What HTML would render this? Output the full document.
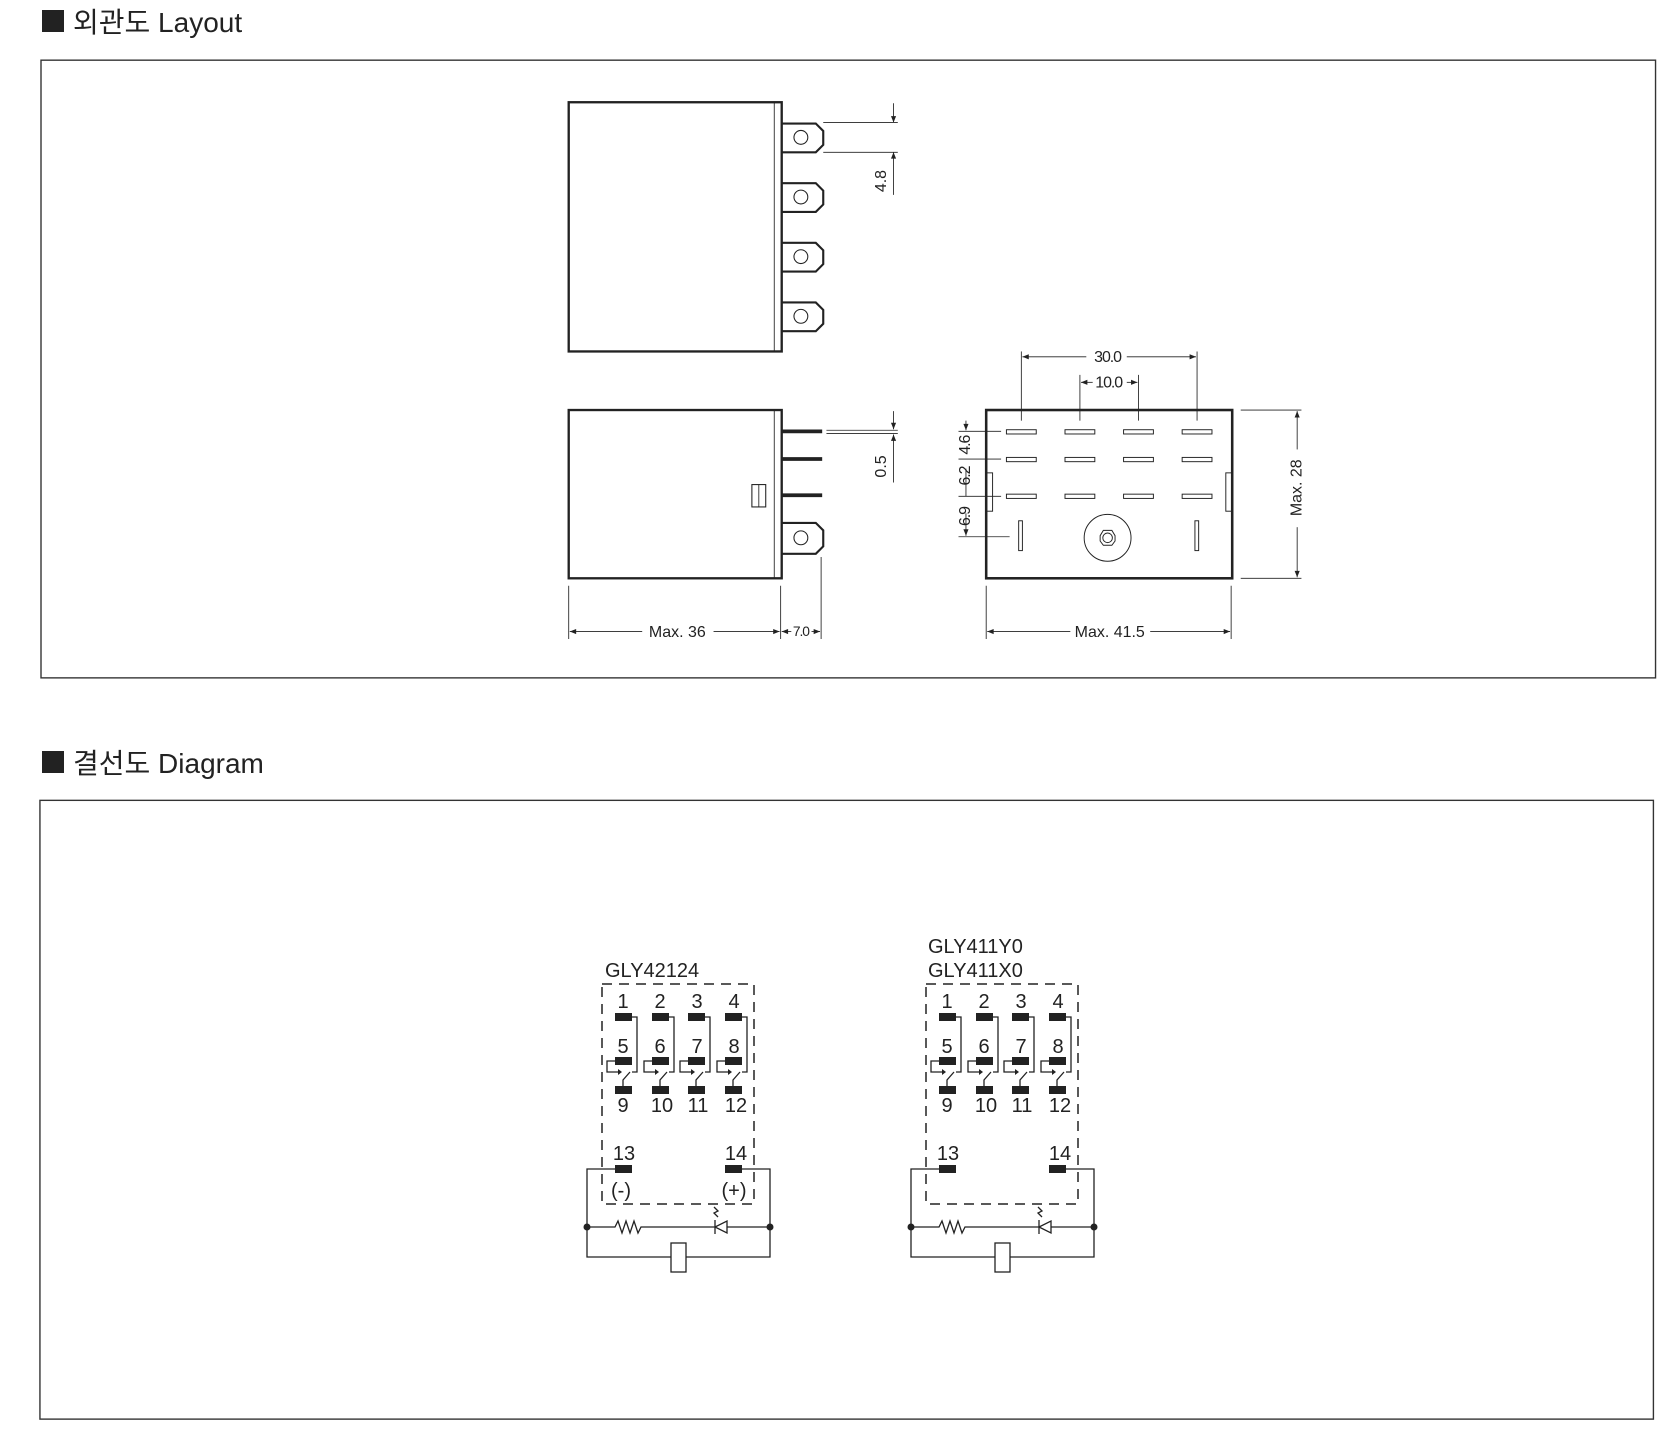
<!DOCTYPE html>
<html><head><meta charset="utf-8"><style>
html,body{margin:0;padding:0;background:#fff;}
svg{display:block;}
text{font-family:"Liberation Sans","Noto Sans CJK KR",sans-serif;fill:#222;}
</style></head><body>
<svg width="1670" height="1430" viewBox="0 0 1670 1430" xmlns="http://www.w3.org/2000/svg">
<defs>
<marker id="ar" viewBox="0 0 10 10" refX="10" refY="5" markerWidth="8" markerHeight="6" orient="auto-start-reverse" markerUnits="userSpaceOnUse"><path d="M0,1 L10,5 L0,9 z" fill="#222"/></marker>
</defs>
<!-- headings -->
<rect x="42" y="10" width="22" height="22" fill="#222"/>
<text x="73" y="32" font-size="28">외관도 Layout</text>
<rect x="42" y="751" width="22" height="22" fill="#222"/>
<text x="73" y="773" font-size="28">결선도 Diagram</text>

<g transform="scale(1.065)">
<rect x="38.5" y="56.5" width="1516" height="580" fill="none" stroke="#333" stroke-width="1.3"/>
<rect x="37.5" y="751.5" width="1515" height="581" fill="none" stroke="#333" stroke-width="1.3"/>

<g stroke="#222" fill="none">
<!-- top view -->
<rect x="534" y="96" width="200" height="234" stroke-width="2.2"/>
<line x1="727" y1="96" x2="727" y2="330" stroke-width="0.8"/>
<g stroke-width="2">
<path d="M734,116 H766 L773,123 V136 L766,143 H734"/>
<path d="M734,172 H766 L773,179 V192 L766,199 H734"/>
<path d="M734,228 H766 L773,235 V248 L766,255 H734"/>
<path d="M734,284 H766 L773,291 V304 L766,311 H734"/>
</g>
<g stroke-width="1"><circle cx="752" cy="129" r="6.5"/><circle cx="752" cy="185" r="6.5"/><circle cx="752" cy="241" r="6.5"/><circle cx="752" cy="297" r="6.5"/></g>
<g stroke-width="0.8">
<line x1="773" y1="115" x2="843" y2="115"/><line x1="773" y1="143" x2="843" y2="143"/>
<line x1="839" y1="97" x2="839" y2="115" marker-end="url(#ar)"/>
<line x1="839" y1="183" x2="839" y2="143" marker-end="url(#ar)"/>
</g>
<!-- side view -->
<rect x="534" y="385" width="200" height="158" stroke-width="2.2"/>
<line x1="727" y1="385" x2="727" y2="543" stroke-width="0.8"/>
<g stroke-width="3.5"><line x1="734" y1="405" x2="772" y2="405"/><line x1="734" y1="431" x2="772" y2="431"/><line x1="734" y1="465" x2="772" y2="465"/></g>
<path d="M734,491 H766 L773,498 V513 L766,520 H734" stroke-width="2"/>
<circle cx="752" cy="505" r="6.5" stroke-width="1"/>
<rect x="706" y="455" width="13" height="21" stroke-width="1"/><line x1="712.5" y1="455" x2="712.5" y2="476" stroke-width="0.8"/>
<g stroke-width="0.8">
<line x1="776" y1="404" x2="843" y2="404"/><line x1="776" y1="407" x2="843" y2="407"/>
<line x1="839" y1="386" x2="839" y2="403" marker-end="url(#ar)"/>
<line x1="839" y1="453" x2="839" y2="408" marker-end="url(#ar)"/>
<line x1="534" y1="550" x2="534" y2="600"/><line x1="733" y1="550" x2="733" y2="600"/><line x1="771" y1="523" x2="771" y2="600"/>
<line x1="603" y1="593" x2="535" y2="593" marker-end="url(#ar)"/>
<line x1="670" y1="593" x2="732" y2="593" marker-end="url(#ar)"/>
<line x1="743" y1="593" x2="734" y2="593" marker-end="url(#ar)"/>
<line x1="762" y1="593" x2="770" y2="593" marker-end="url(#ar)"/>
</g>
<!-- pin view -->
<rect x="926" y="385" width="231" height="158" stroke-width="2.4"/>
<g stroke-width="0.9">
<rect x="945" y="403.5" width="28" height="4"/><rect x="1000" y="403.5" width="28" height="4"/><rect x="1055" y="403.5" width="28" height="4"/><rect x="1110" y="403.5" width="28" height="4"/>
<rect x="945" y="429.5" width="28" height="4"/><rect x="1000" y="429.5" width="28" height="4"/><rect x="1055" y="429.5" width="28" height="4"/><rect x="1110" y="429.5" width="28" height="4"/>
<rect x="945" y="464" width="28" height="4"/><rect x="1000" y="464" width="28" height="4"/><rect x="1055" y="464" width="28" height="4"/><rect x="1110" y="464" width="28" height="4"/>
<rect x="956.5" y="489" width="3.5" height="28"/><rect x="1122" y="489" width="3.5" height="28"/>
<rect x="926" y="444" width="6" height="36"/><rect x="1151" y="444" width="6" height="36"/>
<circle cx="1040" cy="505" r="22"/>
<polygon points="1036,498 1044,498 1047,503 1047,508 1044,512 1036,512 1033,508 1033,503"/>
<circle cx="1040" cy="505" r="4.5"/>
</g>
<g stroke-width="0.8">
<line x1="959" y1="330" x2="959" y2="395"/><line x1="1124" y1="330" x2="1124" y2="395"/>
<line x1="1014" y1="352" x2="1014" y2="395"/><line x1="1069" y1="352" x2="1069" y2="395"/>
<line x1="1020" y1="335" x2="960" y2="335" marker-end="url(#ar)"/><line x1="1058" y1="335" x2="1123" y2="335" marker-end="url(#ar)"/>
<line x1="1026" y1="359" x2="1015" y2="359" marker-end="url(#ar)"/><line x1="1058" y1="359" x2="1068" y2="359" marker-end="url(#ar)"/>
<line x1="900" y1="405" x2="940" y2="405"/><line x1="900" y1="431" x2="940" y2="431"/><line x1="900" y1="466" x2="940" y2="466"/><line x1="900" y1="504" x2="948" y2="504"/>
<line x1="907" y1="395" x2="907" y2="404" marker-end="url(#ar)"/>
<line x1="907" y1="440" x2="907" y2="466"/>
<line x1="907" y1="482" x2="907" y2="503" marker-end="url(#ar)"/>
<line x1="1165" y1="385" x2="1222" y2="385"/><line x1="1165" y1="543" x2="1222" y2="543"/>
<line x1="1218" y1="422" x2="1218" y2="386" marker-end="url(#ar)"/>
<line x1="1218" y1="495" x2="1218" y2="542" marker-end="url(#ar)"/>
<line x1="926" y1="550" x2="926" y2="600"/><line x1="1156" y1="550" x2="1156" y2="600"/>
<line x1="1005" y1="593" x2="927" y2="593" marker-end="url(#ar)"/>
<line x1="1080" y1="593" x2="1155" y2="593" marker-end="url(#ar)"/>
</g>
</g>
<g font-size="15">
<text transform="translate(832,170) rotate(-90)" text-anchor="middle">4.8</text>
<text transform="translate(832,438) rotate(-90)" text-anchor="middle">0.5</text>
<text x="636" y="598" text-anchor="middle">Max. 36</text>
<text x="752" y="597" text-anchor="middle" font-size="13" letter-spacing="-1">7.0</text>
<text x="1040" y="340" text-anchor="middle" letter-spacing="-1">30.0</text>
<text x="1041" y="364" text-anchor="middle" letter-spacing="-1">10.0</text>
<text transform="translate(911,418) rotate(-90)" text-anchor="middle" letter-spacing="-1">4.6</text>
<text transform="translate(911,447) rotate(-90)" text-anchor="middle" letter-spacing="-1">6.2</text>
<text transform="translate(911,485) rotate(-90)" text-anchor="middle" letter-spacing="-1">6.9</text>
<text transform="translate(1222,458) rotate(-90)" text-anchor="middle">Max. 28</text>
<text x="1042" y="598" text-anchor="middle">Max. 41.5</text>
</g>
</g>

<!-- wiring diagrams in original coords -->
<g id="d1">
<rect x="602" y="984" width="152" height="220" fill="none" stroke="#222" stroke-width="1.5" stroke-dasharray="10,7"/>
<g fill="#222">
<rect x="615" y="1013" width="17" height="8"/><rect x="652" y="1013" width="17" height="8"/><rect x="688" y="1013" width="17" height="8"/><rect x="725" y="1013" width="17" height="8"/>
<rect x="615" y="1057" width="17" height="8"/><rect x="652" y="1057" width="17" height="8"/><rect x="688" y="1057" width="17" height="8"/><rect x="725" y="1057" width="17" height="8"/>
<rect x="615" y="1086" width="17" height="8"/><rect x="652" y="1086" width="17" height="8"/><rect x="688" y="1086" width="17" height="8"/><rect x="725" y="1086" width="17" height="8"/>
<rect x="615" y="1165" width="17" height="8"/><rect x="725" y="1165" width="17" height="8"/>
<circle cx="587" cy="1227" r="3.5"/><circle cx="770" cy="1227" r="3.5"/>
</g>
<g fill="none" stroke="#222" stroke-width="1.3">
<path d="M632,1017 H637 V1072 H632"/><path d="M615,1061 H607 V1072 H618"/><path d="M623,1086 V1080 L630,1072"/>
<path d="M669,1017 H674 V1072 H669"/><path d="M652,1061 H644 V1072 H655"/><path d="M660,1086 V1080 L667,1072"/>
<path d="M705,1017 H710 V1072 H705"/><path d="M688,1061 H680 V1072 H691"/><path d="M696,1086 V1080 L703,1072"/>
<path d="M742,1017 H747 V1072 H742"/><path d="M725,1061 H717 V1072 H728"/><path d="M733,1086 V1080 L740,1072"/>
<path d="M615,1169 H587 V1257 H671 M686,1257 H770 V1169 H742"/>
<path d="M587,1227 H615 L618,1221 L622,1233 L626,1221 L630,1233 L634,1221 L638,1233 L641,1227 H715 M727,1227 H770"/>
<path d="M727,1221 V1233 L715,1227 Z M715,1220 V1234"/>
<path d="M718,1217 L714,1213 L718,1211 L714,1207"/>
<rect x="671" y="1243" width="15" height="29" fill="#fff"/>
</g>
<g fill="#222"><path d="M618,1069 L622,1072 L618,1075z"/><path d="M655,1069 L659,1072 L655,1075z"/><path d="M691,1069 L695,1072 L691,1075z"/><path d="M728,1069 L732,1072 L728,1075z"/></g>
<g font-size="20" text-anchor="middle">
<text x="623" y="1008">1</text><text x="660" y="1008">2</text><text x="697" y="1008">3</text><text x="734" y="1008">4</text>
<text x="623" y="1053">5</text><text x="660" y="1053">6</text><text x="697" y="1053">7</text><text x="734" y="1053">8</text>
<text x="623" y="1112">9</text><text x="662" y="1112">10</text><text x="698" y="1112">11</text><text x="736" y="1112">12</text>
<text x="624" y="1160">13</text><text x="736" y="1160">14</text>
</g>
</g>
<text x="605" y="977" font-size="20">GLY42124</text>
<g font-size="20" text-anchor="middle"><text x="621" y="1197">(-)</text><text x="734" y="1197">(+)</text></g>
<use href="#d1" transform="translate(324,0)"/>
<text x="928" y="953" font-size="20">GLY411Y0</text>
<text x="928" y="977" font-size="20">GLY411X0</text>
</svg>
</body></html>
